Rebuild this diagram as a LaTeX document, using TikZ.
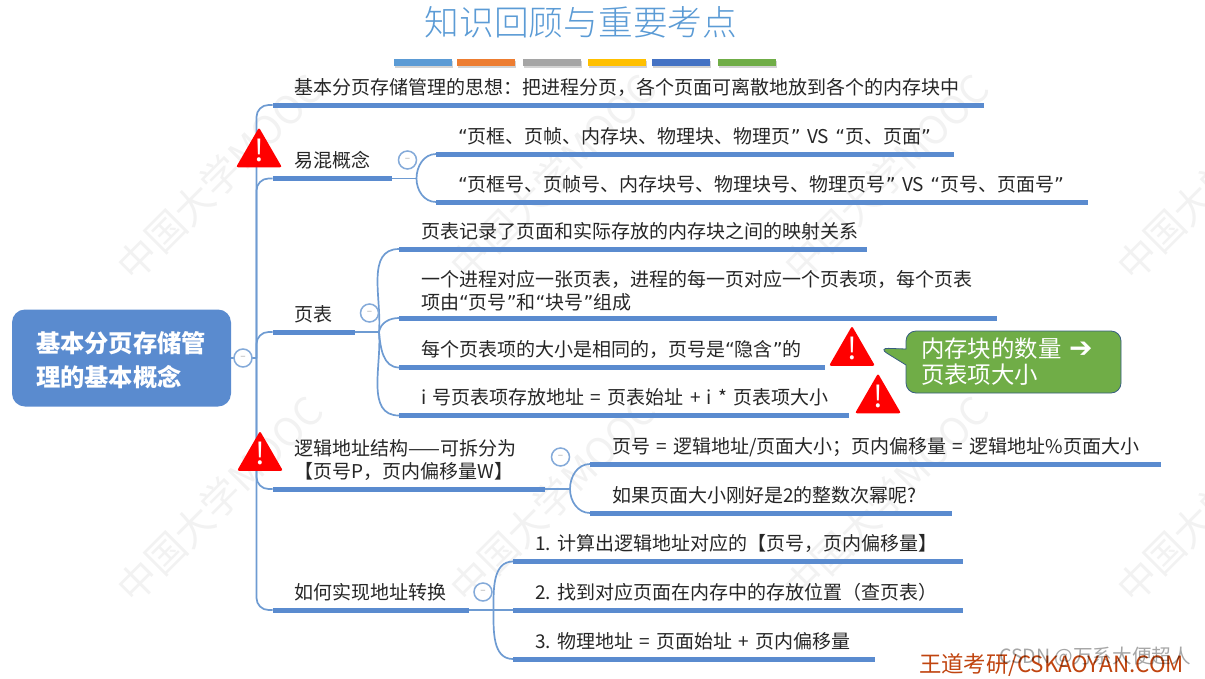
\documentclass[tikz,border=0pt]{standalone}
\usepackage{fontspec}
\setmainfont{Noto Sans CJK SC}
\newfontfamily\symfont{DejaVu Sans}
\newfontfamily\thinfont{Noto Sans CJK SC Light}
\newcommand{\openq}{{\symfont “}}
\newcommand{\closeq}{{\symfont ”}}
\newcommand{\bang}{\makebox[0pt]{\smash{\raisebox{-7pt}{!}}}}
\usetikzlibrary{shapes.geometric, shapes.callouts, shadows}

\definecolor{mapblue}{HTML}{5A8BCF}
\definecolor{wireblue}{HTML}{6E9BD2}
\definecolor{inkgray}{HTML}{262626}
\definecolor{pptblue}{HTML}{5B9BD5}
\definecolor{pptorange}{HTML}{ED7D31}
\definecolor{pptgray}{HTML}{A5A5A5}
\definecolor{pptgold}{HTML}{FFC000}
\definecolor{pptnavy}{HTML}{4472C4}
\definecolor{pptgreen}{HTML}{70AD47}
\definecolor{brandred}{HTML}{C0440F}

\tikzset{
  leaf/.style={anchor=south west, text width=#1pt-44pt, inner xsep=22pt, inner ysep=7pt, text depth=4pt, outer sep=0pt, align=left, text=inkgray, font=\fontsize{19}{23}\selectfont},
  heavy/.style={draw=mapblue, line width=5pt},
  wire/.style={draw=wireblue, line width=1.7pt},
  elbow/.style={wire, rounded corners=12pt},
  fold/.style={circle, draw=wireblue!85, line width=1.5pt, fill=white, minimum size=18pt, inner sep=0pt, text=black!35, font=\fontsize{10}{10}\selectfont},
  warn/.style={regular polygon, regular polygon sides=3, minimum size=53pt, inner sep=0pt, outer sep=0pt, fill=red, rounded corners=2pt, text=white, font=\fontsize{30}{30}\selectfont},
  stripe/.style={minimum width=58pt, minimum height=7pt, inner sep=0pt, drop shadow={shadow xshift=.6pt, shadow yshift=-1.6pt, opacity=.35}},
  moocmark/.style={rotate=45, text=black!5, font=\fontsize{39}{39}\selectfont},
}

\begin{document}
\begin{tikzpicture}[x=1pt, y=-1pt]
\useasboundingbox (0,0) rectangle (1205,678);
% watermark
\node[moocmark] (moocA) at (220,177) {中国大学MOOC};
\node[moocmark] (moocB) at (553,177) {中国大学MOOC};
\node[moocmark] (moocC) at (886,177) {中国大学MOOC};
\node[moocmark] (moocD) at (1219,177) {中国大学MOOC};
\node[moocmark] (moocE) at (220,499) {中国大学MOOC};
\node[moocmark] (moocF) at (553,499) {中国大学MOOC};
\node[moocmark] (moocG) at (886,499) {中国大学MOOC};
\node[moocmark] (moocH) at (1219,499) {中国大学MOOC};
% title and stripes
\node[text=pptblue, font=\thinfont\fontsize{34.7}{35}\selectfont] (title) at (581,22) {知识回顾与重要考点};
\node[stripe, fill=pptblue] (stripeA) at (423,62.5) {};
\node[stripe, fill=pptorange] (stripeB) at (486,62.5) {};
\node[stripe, fill=pptgray] (stripeC) at (552,62.5) {};
\node[stripe, fill=pptgold] (stripeD) at (617,62.5) {};
\node[stripe, fill=pptnavy] (stripeE) at (681,62.5) {};
\node[stripe, fill=pptgreen] (stripeF) at (747,62.5) {};
% root
\node[rounded corners=13pt, fill=mapblue, minimum width=219pt, minimum height=97pt, text width=171pt, text height=26pt, inner xsep=24pt, align=left, text=white, font=\fontsize{24.3}{34}\bfseries] (root) at (121.5,358) {基本分页存储管\\理的基本概念};
\coordinate (trunk) at (256.5,358);
% first level
\node[leaf=711.5] (idea) at (272.5,105) {基本分页存储管理的思想^^^^ff1a把进程分页^^^^ff0c各个页面可离散地放到各个的内存块中};
\node[leaf=119.5] (mix) at (272.5,178.5) {易混概念};
\node[leaf=82.5] (tbl) at (272.5,332) {页表};
\node[leaf=272.5, text depth=27pt] (addr) at (272.5,489) {逻辑地址结构——可拆分为\\【页号P^^^^ff0c页内偏移量W】};
\node[leaf=196] (conv) at (272.5,610) {如何实现地址转换};
% second level
\node[leaf=518] (mixA) at (436,154) {\openq 页框、页帧、内存块、物理块、物理页\closeq~VS~\openq 页、页面\closeq};
\node[leaf=652] (mixB) at (436,202) {\openq 页框号、页帧号、内存块号、物理块号、物理页号\closeq~VS~\openq 页号、页面号\closeq};
\node[leaf=468] (tblA) at (399,249) {页表记录了页面和实际存放的内存块之间的映射关系};
\node[leaf=598, text depth=25pt] (tblB) at (399,318) {一个进程对应一张页表^^^^ff0c进程的每一页对应一个页表项^^^^ff0c每个页表\\项由\openq 页号\closeq 和\openq 块号\closeq 组成};
\node[leaf=426] (tblC) at (399,367.5) {每个页表项的大小是相同的^^^^ff0c页号是\openq 隐含\closeq 的};
\node[leaf=450] (tblD) at (399,415.5) {i~号页表项存放地址~=~页表始址~+~i~*~页表项大小};
\node[leaf=571] (addrA) at (590,464) {页号~=~逻辑地址/页面大小^^^^ff1b页内偏移量~=~逻辑地址\%页面大小};
\node[leaf=362] (addrB) at (590,513) {如果页面大小刚好是2的整数次幂呢?};
\node[leaf=450] (convA) at (513,561.5) {1.~计算出逻辑地址对应的【页号^^^^ff0c页内偏移量】};
\node[leaf=450] (convB) at (513,610) {2.~找到对应页面在内存中的存放位置^^^^ff08查页表^^^^ff09};
\node[leaf=362] (convC) at (513,659) {3.~物理地址~=~页面始址~+~页内偏移量};
\coordinate (mixjoint) at (416.5,178.5);
\coordinate (tbljoint) at (379,332);
\coordinate (addrjoint) at (570,489);
\coordinate (convjoint) at (493.5,610);
% connectors
\draw[wire] (root.east) -- (trunk);
\draw[elbow] (trunk) |- (idea.south west);
\draw[elbow] (trunk) |- (mix.south west);
\draw[elbow] (trunk) |- (tbl.south west);
\draw[elbow] (trunk) |- (addr.south west);
\draw[elbow] (trunk) |- (conv.south west);
\draw[wire] (mix.south east) -- (mixjoint);
\draw[wire] (tbl.south east) -- (tbljoint);
\draw[wire] (addr.south east) -- (addrjoint);
\draw[wire] (conv.south east) -- (convjoint);
\draw[wire] (mixjoint) to[out=90, in=180] (mixA.south west);
\draw[wire] (mixjoint) to[out=-90, in=180] (mixB.south west);
\draw[wire] (tbljoint) to[out=85, in=180] (tblA.south west);
\draw[wire] (tbljoint) to[out=80, in=180] (tblB.south west);
\draw[wire] (tbljoint) to[out=-85, in=180] (tblC.south west);
\draw[wire] (tbljoint) to[out=-85, in=180] (tblD.south west);
\draw[wire] (addrjoint) to[out=90, in=180] (addrA.south west);
\draw[wire] (addrjoint) to[out=-90, in=180] (addrB.south west);
\draw[wire] (convjoint) to[out=90, in=180] (convA.south west);
\draw[wire] (convjoint) -- (convB.south west);
\draw[wire] (convjoint) to[out=-90, in=180] (convC.south west);
% underlines
\draw[heavy] (idea.south west) -- (idea.south east);
\draw[heavy] (mix.south west) -- (mix.south east);
\draw[heavy] (tbl.south west) -- (tbl.south east);
\draw[heavy] (addr.south west) -- (addr.south east);
\draw[heavy] (conv.south west) -- (conv.south east);
\draw[heavy] (mixA.south west) -- (mixA.south east);
\draw[heavy] (mixB.south west) -- (mixB.south east);
\draw[heavy] (tblA.south west) -- (tblA.south east);
\draw[heavy] (tblB.south west) -- (tblB.south east);
\draw[heavy] (tblC.south west) -- (tblC.south east);
\draw[heavy] (tblD.south west) -- (tblD.south east);
\draw[heavy] (addrA.south west) -- (addrA.south east);
\draw[heavy] (addrB.south west) -- (addrB.south east);
\draw[heavy] (convA.south west) -- (convA.south east);
\draw[heavy] (convB.south west) -- (convB.south east);
\draw[heavy] (convC.south west) -- (convC.south east);
% fold buttons
\node[fold] (rootfold) at (243,358) {--};
\node[fold] (mixfold) at (407.5,160) {--};
\node[fold] (tblfold) at (369.5,313) {--};
\node[fold] (addrfold) at (560.5,457) {--};
\node[fold] (convfold) at (483,592) {--};
% warnings
\node[warn] (warnA) at (259,154) {\bang};
\node[warn] (warnB) at (852,352.5) {\bang};
\node[warn] (warnC) at (878,400) {\bang};
\node[warn] (warnD) at (260,457.5) {\bang};
% note
\node[rectangle callout, callout absolute pointer={(878.5,348)}, callout pointer width=16pt, rounded corners=10pt, fill=pptgreen, draw=pptblue!60!black, line width=.8pt, minimum width=215pt, minimum height=62pt, text width=185pt, inner xsep=15pt, align=left, text=white, font=\fontsize{23.4}{26}\selectfont] (note) at (1013.5,362) {内存块的数量~{\symfont\bfseries\fontsize{28}{26}\selectfont ➔}\\页表项大小};
% footer
\node[text=brandred, font=\fontsize{22.4}{23}\selectfont] (brand) at (1051.5,665) {王道考研/CSKAOYAN.COM};
\node[text=black, opacity=.35, font=\fontsize{19.6}{20}\selectfont] (csdn) at (1095,657) {CSDN @万系大便超人};
\end{tikzpicture}
\end{document}
